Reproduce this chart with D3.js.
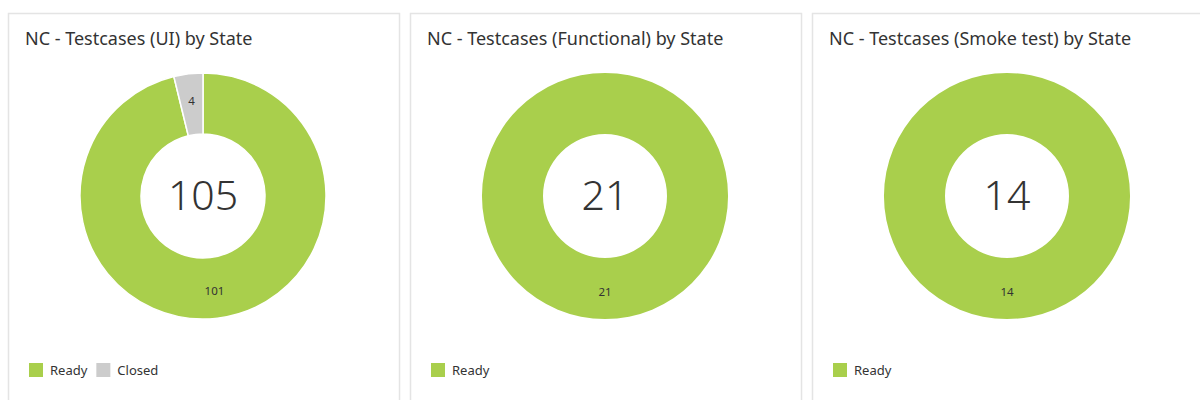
<!DOCTYPE html>
<html>
<head>
<meta charset="utf-8">
<script src="https://cdn.jsdelivr.net/npm/d3@7"></script>
<style>
  body { margin: 0; background: #fff; }
  text { font-family: "Noto Sans", "Open Sans", sans-serif; fill: #333; }
</style>
</head>
<body>
<div id="container"></div>
<script>
/* DATA */
const titles = [
    "NC - Testcases (UI) by State",
    "NC - Testcases (Functional) by State",
    "NC - Testcases (Smoke test) by State"
];
const states = ["Ready", "Closed"];
const readyCounts = [101, 21, 14];
const closedCounts = [4, 0, 0];

/* CONSTANTS */
const width = 1200,
    height = 400,
    panelX = 8, panelY = 13, panelW = 391, panelGap = 11,
    outerR = 123, innerR = 62;

const colorScale = d3.scaleOrdinal()
    .domain(states)
    .range(["#a9cf4c", "#cccccc"]);

const svg = d3.select("#container")
    .append("svg")
    .attr("width", width)
    .attr("height", height);

const pie = d3.pie()
    .sort(null)
    .value(d => d.value);

const arc = d3.arc().innerRadius(innerR).outerRadius(outerR);
const labelArc = d3.arc().innerRadius(96).outerRadius(96);

titles.forEach((title, i) => {
    const x0 = panelX + i * (panelW + panelGap);
    const rows = [
        { state: "Ready", value: readyCounts[i] },
        { state: "Closed", value: closedCounts[i] }
    ].filter(d => d.value > 0);
    const total = d3.sum(rows, d => d.value);

    const g = svg.append("g").attr("transform", `translate(${x0},${panelY})`);

    // panel card
    g.append("rect")
        .attr("x", 0.5).attr("y", 0.5)
        .attr("width", panelW).attr("height", height)
        .attr("fill", "#fff")
        .attr("stroke", "#e4e4e4")
        .attr("stroke-width", 1.5);

    g.append("text")
        .attr("x", 17)
        .attr("y", 32)
        .style("font-size", "18px")
        .text(title);

    // donut
    const donut = g.append("g").attr("transform", `translate(${195},${183})`);
    const slices = pie(rows);

    donut.selectAll("path")
        .data(slices)
        .join("path")
        .attr("d", arc)
        .attr("fill", d => colorScale(d.data.state))
        .attr("stroke", "#fff")
        .attr("stroke-width", rows.length > 1 ? 1.5 : 0);

    donut.selectAll("text.slice")
        .data(slices)
        .join("text")
        .attr("class", "slice")
        .attr("transform", d => `translate(${labelArc.centroid(d)})`)
        .attr("text-anchor", "middle")
        .attr("dy", "0.35em")
        .style("font-size", "11.5px")
        .text(d => d.data.value);

    donut.append("text")
        .attr("text-anchor", "middle")
        .attr("dy", "0.34em")
        .style("font-size", "41px")
        .style("font-weight", 300)
        .text(total);

    // legend
    const legend = g.append("g").attr("transform", `translate(21,350)`);
    let lx = 0;
    rows.forEach(d => {
        const item = legend.append("g").attr("transform", `translate(${lx},0)`);
        item.append("rect")
            .attr("width", 14).attr("height", 14)
            .attr("fill", colorScale(d.state));
        const t = item.append("text")
            .attr("x", 21).attr("y", 12)
            .style("font-size", "13px")
            .text(d.state);
        lx += 21 + t.node().getComputedTextLength() + 9;
    });
});
</script>
</body>
</html>
